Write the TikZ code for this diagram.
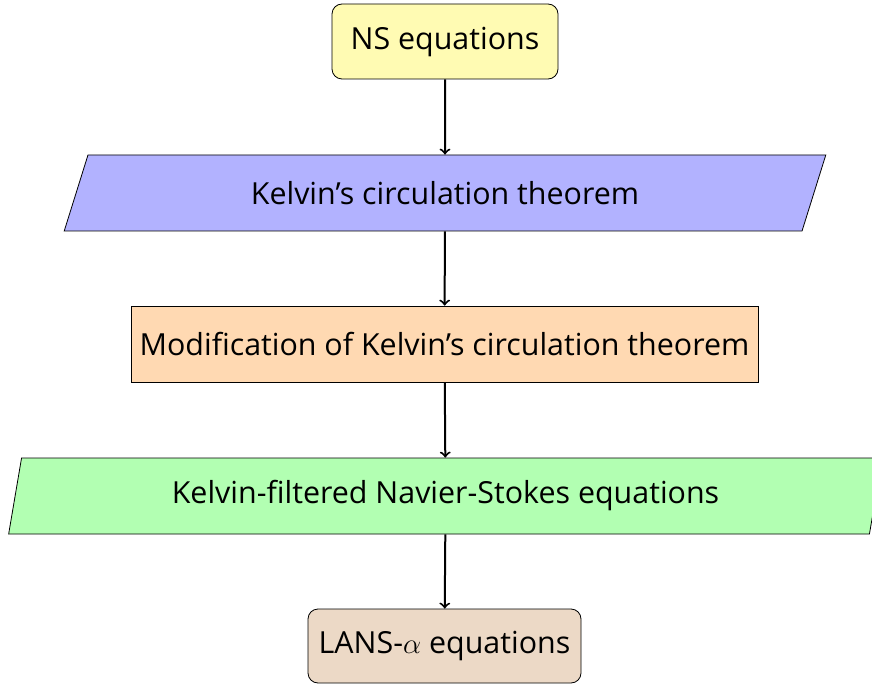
\documentclass[tikz,border=0pt]{standalone}
\usepackage{fontspec}
\setmainfont{Open Sans}
\usetikzlibrary{shapes.geometric}
\begin{document}
\begin{tikzpicture}[x=0.5pt, y=-0.5pt, font=\fontsize{15.2}{18}\selectfont,
	startbox/.style={rectangle, rounded corners=5pt, draw=black, fill=yellow!30, minimum width=113pt, minimum height=37.5pt},
	kelvinbox/.style={trapezium, trapezium stretches=true, trapezium left angle=70, trapezium right angle=110, draw=black, fill=blue!30, minimum width=382pt, minimum height=38pt},
	modbox/.style={rectangle, draw=black, fill=orange!30, minimum width=313.5pt, minimum height=38pt},
	filtbox/.style={trapezium, trapezium stretches=true, trapezium left angle=79, trapezium right angle=101, draw=black, fill=green!30, minimum width=438.5pt, minimum height=38pt},
	endbox/.style={rectangle, rounded corners=5pt, draw=black, fill=brown!30, minimum width=136.5pt, minimum height=37pt}]
	\useasboundingbox (0,0) rectangle (872,684);

	\node[startbox] (ns) at (445,41.5) {NS equations};
	\node[kelvinbox] (kelvin) at (445,193) {Kelvin’s circulation theorem};
	\node[modbox] (modif) at (444.5,344) {Modification of Kelvin’s circulation theorem};
	\node[filtbox] (filtered) at (445.5,496) {Kelvin-filtered Navier-Stokes equations};
	\node[endbox] (lans) at (444.5,646) {LANS-$\alpha$ equations};

	\draw[->, line width=1pt] (ns) -- (kelvin);
	\draw[->, line width=1pt] (kelvin) -- (modif);
	\draw[->, line width=1pt] (modif) -- (filtered);
	\draw[->, line width=1pt] (filtered) -- (lans);
\end{tikzpicture}
\end{document}
